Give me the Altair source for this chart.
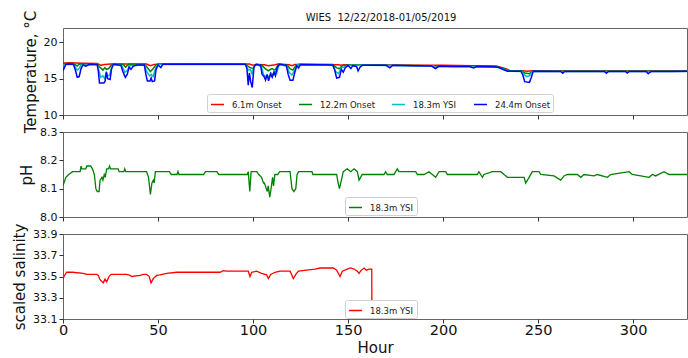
import altair as alt
import pandas as pd

# ---------------- data (hour, value) ----------------
TITLE = "WIES\u00a0 12/22/2018-01/05/2019"
TEMP_SERIES = ["6.1m Onset", "12.2m Onset", "18.3m YSI", "24.4m Onset"]
TEMP_COLORS = ["#ff0000", "#008000", "#00bfbf", "#0000ff"]
X_TICKS = [0, 50, 100, 150, 200, 250, 300]
X_MAX = 328.4

T_6M = [(0,17.15),(3,17.2),(10,17.15),(18,17.1),(20,16.85),(22,16.98),(25,17.05),(35,17.05),(44,17.02),
        (46,16.8),(48,16.98),(52,17.05),(90,17.05),(98,17.02),(100,16.85),(102,16.98),(106,16.93),(108,16.8),
        (111,16.88),(113,17.02),(119,16.93),(120.5,16.8),(122,16.98),(145,16.92),(146,16.85),(148,16.92),
        (170,16.9),(190,16.86),(200,16.85),(215,16.8),(228,16.75),(233,16.4),(235,16.15),(242,16.12),
        (244,16.05),(247,16.12),(270,16.1),(290,16.12),(310,16.1),(330,16.1)]

T_12M = [(0,17.0),(1,17.1),(5,17.1),(6.5,16.95),(7.5,16.75),(8.5,17.0),(18,17.05),(19,16.7),(21,16.2),
         (22,16.5),(23,16.3),(24,16.4),(25.5,16.9),(27,17.05),(31.5,17.0),(33,16.6),(34,16.9),(35,17.0),
         (43,17.0),(44.5,16.5),(46,16.0),(47.5,16.4),(48.8,16.9),(50,17.05),(96,17.0),(98,16.6),(100,16.4),
         (101,16.9),(102,17.0),(104.5,16.9),(106,16.5),(108,16.1),(110,16.4),(111.5,16.2),(113,16.8),
         (114,17.0),(118,16.9),(119.5,16.4),(121,16.2),(122.5,16.8),(124,17.0),(142,16.95),(144,16.5),
         (145.5,16.4),(147,16.8),(150,16.9),(160,16.9),(195,16.8),(196,16.55),(198,16.8),(215,16.75),
         (228,16.7),(233,16.3),(235,16.1),(241.5,16.1),(243,15.8),(245.5,15.7),(247,16.05),(262,16.05),
         (329,16.05)]

T_18M = [(0,16.9),(1.5,17.0),(5.5,16.95),(6.5,16.6),(7.5,16.2),(8.5,16.4),(9.5,16.9),(18,16.95),
         (18.8,16.2),(19.8,15.2),(21,15.4),(22,15.0),(22.8,16.0),(23.5,15.4),(24.5,15.5),(25.5,16.5),
         (26.5,16.95),(31,16.8),(32.5,15.9),(34,16.2),(35,16.8),(43,16.9),(44,16.0),(45.5,15.4),
         (46.5,15.6),(47.5,15.3),(48.8,16.5),(50,16.95),(96,16.95),(97.5,16.2),(98.5,16.3),(99.5,15.7),
         (100.6,16.8),(102,16.95),(104.5,16.6),(105.5,15.6),(106.5,15.3),(107.5,15.5),(108.5,15.1),
         (109.5,15.8),(110.5,15.5),(111.5,16.1),(112.5,15.8),(113.5,16.8),(114.5,16.95),(118,16.7),
         (119,15.9),(120.5,15.5),(122,16.2),(123,16.9),(142,16.85),(143.5,16.0),(145,15.7),(146.5,16.5),
         (148,16.6),(150,16.85),(160,16.85),(195,16.75),(196,16.5),(198,16.7),(215,16.65),(228,16.6),
         (233,16.2),(235,16.05),(241.5,16.0),(242.5,15.6),(244,15.3),(245.5,15.4),(247,16.0),(262,16.0),
         (329,16.0)]

T_24M = [(0,16.1),(0.5,16.4),(1.5,17.0),(3,17.05),(5.5,17.0),(6.5,16.2),(7.5,15.2),(8.5,15.3),(9.5,16.4),
         (10.5,16.9),(12,16.75),(14,17.0),(18,16.95),(18.6,16.0),(19.2,14.4),(21.5,14.4),(22.2,14.7),
         (22.8,15.9),(23.5,15.0),(24.8,14.9),(25.5,16.3),(26.5,17.0),(30.5,16.85),(31.5,16.0),(32.8,15.2),
         (33.8,15.6),(34.8,16.6),(35.8,16.3),(37,16.75),(39,16.9),(42.8,16.9),(43.6,15.6),(44.4,14.7),
         (45.8,14.7),(46.4,15.1),(47,14.6),(48.2,14.7),(48.9,16.2),(50,16.9),(51.5,16.55),(52.5,17.0),
         (96,17.0),(96.8,16.4),(97.5,14.1),(98.1,15.8),(98.8,14.6),(99.6,13.8),(100.5,16.6),(101.5,17.0),
         (104,16.85),(104.8,15.6),(105.8,15.3),(106.6,14.8),(107.4,15.6),(108.2,14.7),(109.2,15.7),
         (110.1,15.2),(111,15.9),(111.8,15.4),(112.8,16.6),(114,17.0),(117.5,16.85),(118.5,15.6),
         (119.5,14.8),(121,14.8),(122,15.9),(123,16.8),(124,16.5),(125,16.95),(142,16.9),(143,16.2),
         (144,15.1),(145.5,15.2),(146.5,16.3),(147.5,15.9),(148.5,16.5),(150,16.85),(151.5,16.4),
         (152.5,16.8),(154.5,16.7),(155.3,16.1),(156.3,16.6),(157.5,16.85),(170,16.85),(172,16.5),
         (173.5,16.85),(185,16.8),(194,16.75),(196,16.4),(198,16.75),(205,16.7),(214,16.7),(216,16.5),
         (218,16.7),(226,16.65),(229,16.6),(232,16.25),(234,16.05),(241,16.05),(242,15.5),(243,14.6),
         (245.5,14.5),(246.5,15.2),(247.5,16.05),(262,16.0),(263,15.75),(264,16.0),(285,16.0),(286,15.75),
         (287,16.0),(296,16.0),(297,15.8),(298,16.0),(307,16.0),(308,15.7),(309.5,16.0),(320,16.0),
         (329,16.05)]

PH_NAME = "18.3m YSI"
PH = [(0,8.11),(1.5,8.14),(3,8.15),(5,8.16),(9,8.16),(9.5,8.18),(10,8.17),(12,8.17),(12.5,8.18),
      (14.5,8.18),(15.5,8.17),(16.5,8.15),(17.3,8.10),(18,8.09),(19,8.09),(19.5,8.13),(20.5,8.14),
      (21,8.13),(21.7,8.15),(22.2,8.14),(23,8.17),(24,8.17),(24.5,8.18),(25,8.17),(29,8.17),(29.5,8.16),
      (32,8.16),(32.5,8.17),(33,8.16),(44,8.16),(45,8.14),(46,8.08),(46.8,8.12),(47.5,8.13),(48,8.12),
      (48.6,8.16),(56,8.16),(57,8.15),(60,8.15),(60.5,8.16),(61,8.15),(74,8.15),(75,8.16),(81,8.16),
      (82,8.15),(97,8.15),(97.5,8.16),(98.3,8.09),(99,8.16),(102,8.16),(103,8.15),(104.5,8.14),
      (105.5,8.12),(106,8.12),(106.5,8.11),(107.5,8.09),(108,8.11),(108.8,8.07),(109.5,8.10),
      (110.3,8.14),(110.8,8.11),(111.5,8.15),(113,8.15),(114,8.16),(119.5,8.16),(120.5,8.10),
      (121.5,8.09),(122.5,8.10),(123.2,8.15),(124,8.16),(131,8.16),(131.5,8.15),(144,8.15),
      (144.8,8.12),(145.5,8.10),(146.5,8.13),(147.5,8.16),(149.6,8.17),(151.4,8.16),(153.2,8.17),
      (154.9,8.16),(155.8,8.13),(157.5,8.15),(168.9,8.15),(169.8,8.16),(170.7,8.15),(174.2,8.15),
      (175.9,8.17),(176.8,8.16),(185.6,8.16),(186.5,8.15),(190,8.15),(192.6,8.16),(194.4,8.15),
      (196.1,8.14),(197.9,8.16),(201.4,8.16),(202.3,8.15),(218,8.15),(218.9,8.16),(220.7,8.14),
      (221.6,8.15),(226,8.16),(230.4,8.16),(232.1,8.15),(233.9,8.14),(235.6,8.14),(237.4,8.14),
      (240,8.14),(242.7,8.14),(243.5,8.12),(245.3,8.14),(247,8.16),(250.5,8.16),(251.5,8.15),
      (258.4,8.145),(261.9,8.13),(263.7,8.145),(265.4,8.15),(270.7,8.15),(272.5,8.14),(274.2,8.15),
      (279.5,8.145),(281.2,8.15),(286.5,8.14),(288.2,8.15),(297.9,8.16),(299.6,8.15),(308.4,8.14),
      (310.2,8.15),(311.9,8.145),(316.3,8.16),(318.9,8.15),(329,8.15)]

SAL_NAME = "18.3m YSI"
SAL = [(0,33.47),(0.5,33.50),(1.9,33.54),(5,33.54),(10.7,33.53),(12.5,33.52),(17.7,33.52),(18.6,33.51),
       (19.5,33.47),(21.2,33.44),(22.1,33.475),(23,33.45),(24.2,33.50),(25.3,33.52),(33.5,33.52),
       (35.3,33.51),(36.1,33.50),(40.5,33.51),(42.3,33.52),(44,33.52),(45.4,33.50),(46.3,33.44),
       (47.5,33.48),(49.3,33.51),(51,33.515),(54.6,33.53),(59.8,33.54),(82.6,33.54),(84.4,33.555),
       (86,33.55),(97.5,33.55),(98.4,33.50),(99.3,33.54),(101.9,33.55),(104.5,33.53),(107.2,33.515),
       (108.1,33.48),(109.3,33.52),(111.6,33.54),(114.2,33.55),(119.5,33.55),(120.4,33.515),
       (121.2,33.48),(122.5,33.52),(123.9,33.55),(128.2,33.56),(132.6,33.57),(135.3,33.58),
       (142.3,33.58),(144,33.56),(145.8,33.50),(147,33.55),(149.6,33.57),(151.4,33.58),(153.2,33.57),
       (154.9,33.55),(155.8,33.53),(157,33.56),(158.5,33.58),(159.6,33.56),(161,33.57),(162.5,33.57),
       (162.6,32.9)]


def to_df(pairs, name):
    return pd.DataFrame({"hour": [p[0] for p in pairs],
                         "value": [p[1] for p in pairs],
                         "series": name})


temp_df = pd.concat([to_df(T_6M, TEMP_SERIES[0]), to_df(T_12M, TEMP_SERIES[1]),
                     to_df(T_18M, TEMP_SERIES[2]), to_df(T_24M, TEMP_SERIES[3])],
                    ignore_index=True)
ph_df = to_df(PH, PH_NAME)
sal_df = to_df(SAL, SAL_NAME)

W = 624
xscale = alt.Scale(domain=[0, X_MAX], nice=False, zero=False)
x_hidden = alt.X("hour:Q", scale=xscale,
                 axis=alt.Axis(values=X_TICKS, labels=False, title=None, ticks=True,
                               tickSize=4, domain=False, grid=False))
x_bottom = alt.X("hour:Q", scale=xscale,
                 axis=alt.Axis(values=X_TICKS, labels=True, title="Hour", ticks=True,
                               tickSize=4, domain=False, grid=False, labelFontSize=14.5,
                               labelPadding=0, labelFlush=False, titleFontSize=15,
                               titlePadding=4, format="d"))


def legend(x, y):
    return alt.Legend(title=None, orient="none", legendX=x, legendY=y, direction="horizontal",
                      symbolType="stroke", symbolStrokeWidth=1.5, symbolSize=169,
                      labelFontSize=8.5, labelOffset=7, columnPadding=14, padding=3,
                      strokeColor="#d0d0d0", fillColor="white", cornerRadius=2)


def yaxis(title, values, fmt):
    return alt.Axis(title=title, values=values, format=fmt, tickSize=4, labelPadding=2,
                    labelFontSize=11, titleFontSize=15, titlePadding=5, domain=False, grid=False)


temp_base = alt.Chart(temp_df).mark_line(strokeWidth=1.5, clip=True).encode(
    x=x_hidden,
    y=alt.Y("value:Q", scale=alt.Scale(domain=[10, 22], nice=False, zero=False),
            axis=yaxis("Temperature, °C", [10, 15, 20], "d")),
    color=alt.Color("series:N", scale=alt.Scale(domain=TEMP_SERIES, range=TEMP_COLORS),
                    legend=legend(144, 66)),
)
temp = alt.layer(*[temp_base.transform_filter(alt.datum.series == s) for s in TEMP_SERIES]).properties(
    width=W, height=87,
    title=alt.TitleParams(text=TITLE, fontSize=10, fontWeight="normal", anchor="middle",
                          frame="group", offset=-13, dx=6, color="#111"))

ph = alt.Chart(ph_df).mark_line(strokeWidth=1.3, clip=True).encode(
    x=x_hidden,
    y=alt.Y("value:Q", scale=alt.Scale(domain=[8.0, 8.3], nice=False, zero=False),
            axis=yaxis("pH", [8.0, 8.1, 8.2, 8.3], ".1f")),
    color=alt.Color("series:N", scale=alt.Scale(domain=[PH_NAME], range=["#008000"]),
                    legend=legend(282, 65)),
).properties(width=W, height=85)

sal = alt.Chart(sal_df).mark_line(strokeWidth=1.3, clip=True).encode(
    x=x_bottom,
    y=alt.Y("value:Q", scale=alt.Scale(domain=[33.1, 33.9], nice=False, zero=False),
            axis=yaxis("scaled salinity", [33.1, 33.3, 33.5, 33.7, 33.9], ".1f")),
    color=alt.Color("series:N", scale=alt.Scale(domain=[SAL_NAME], range=["#ff0000"]),
                    legend=legend(282, 66)),
).properties(width=W, height=85)

chart = alt.vconcat(temp, ph, sal, spacing=17, bounds="flush").resolve_scale(
    color="independent"
).properties(
    padding={"left": 12, "top": 9, "right": 0, "bottom": 0},
    autosize=alt.AutoSizeParams(type="pad"),
).configure(font="DejaVu Sans").configure_view(
    stroke="#666", strokeWidth=1
).configure_axis(
    labelColor="#111", titleColor="#111", tickColor="#333", titleFontWeight="normal",
    labelFont="DejaVu Sans", titleFont="DejaVu Sans"
).configure_legend(labelColor="#222", labelFont="DejaVu Sans")

chart.save("out.html", embed_options={"renderer": "svg", "actions": False})
